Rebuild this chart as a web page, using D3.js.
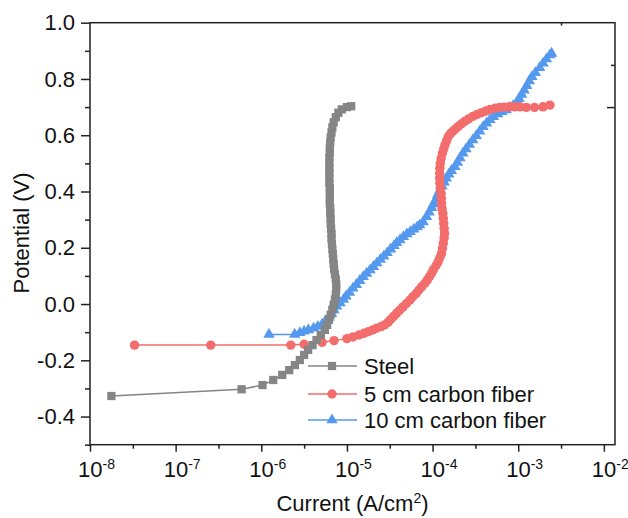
<!DOCTYPE html>
<html>
<head>
<meta charset="utf-8">
<script src="https://cdn.jsdelivr.net/npm/d3@7"></script>
<style>
  body { margin: 0; background: #fff; }
  text { font-family: Arial, "Liberation Sans", sans-serif; fill: #111; }
</style>
</head>
<body>
<div id="chart"></div>
<script>
// [log10(current A/cm2), potential V]
var steel = [
  [-7.75,-0.327],[-6.23,-0.303],[-5.985,-0.288],[-5.86,-0.270],[-5.756,-0.252],[-5.674,-0.235],
  [-5.608,-0.217],[-5.55,-0.199],[-5.50,-0.181],[-5.453,-0.163],[-5.402,-0.146],[-5.355,-0.128],
  [-5.305,-0.110],[-5.258,-0.092],[-5.231,-0.074],[-5.21,-0.056],[-5.19,-0.038],[-5.17,-0.020],
  [-5.155,-0.002],[-5.14,0.016],[-5.13,0.034],[-5.125,0.052],[-5.125,0.070],[-5.13,0.088],
  [-5.14,0.106],[-5.15,0.124],[-5.155,0.142],[-5.16,0.160],[-5.165,0.178],[-5.17,0.196],
  [-5.175,0.214],[-5.18,0.232],[-5.18,0.250],[-5.185,0.268],[-5.19,0.286],[-5.19,0.304],
  [-5.195,0.322],[-5.195,0.340],[-5.2,0.358],[-5.2,0.376],[-5.2,0.394],[-5.2,0.412],
  [-5.205,0.430],[-5.205,0.448],[-5.205,0.466],[-5.205,0.484],[-5.205,0.502],[-5.205,0.520],
  [-5.2,0.538],[-5.2,0.556],[-5.195,0.574],[-5.19,0.592],[-5.18,0.610],[-5.17,0.628],
  [-5.155,0.646],[-5.13,0.664],[-5.10,0.680],[-5.06,0.692],[-5.00,0.700],[-4.95,0.703]
];
var cf5 = [
  [-7.48,-0.146],[-6.59,-0.146],[-5.655,-0.146],[-5.50,-0.143],[-5.29,-0.136],[-5.15,-0.130],
  [-5.00,-0.123],[-4.93,-0.117],[-4.86,-0.110],[-4.80,-0.104],[-4.75,-0.098],[-4.70,-0.092],
  [-4.655,-0.086],[-4.60,-0.080],[-4.56,-0.074],[-4.52,-0.065],[-4.49,-0.055],[-4.455,-0.044],
  [-4.42,-0.033],[-4.385,-0.022],[-4.345,-0.010],[-4.305,0.002],[-4.265,0.014],[-4.23,0.026],
  [-4.19,0.038],[-4.16,0.050],[-4.125,0.062],[-4.09,0.074],[-4.06,0.086],[-4.035,0.098],
  [-4.01,0.110],[-3.99,0.122],[-3.96,0.136],[-3.935,0.150],[-3.915,0.165],[-3.895,0.180],
  [-3.885,0.198],[-3.875,0.216],[-3.865,0.234],[-3.86,0.251],[-3.865,0.269],[-3.87,0.287],
  [-3.875,0.305],[-3.88,0.322],[-3.89,0.340],[-3.895,0.358],[-3.897,0.376],[-3.9,0.393],
  [-3.91,0.411],[-3.915,0.429],[-3.917,0.447],[-3.917,0.465],[-3.915,0.483],[-3.91,0.500],
  [-3.9,0.518],[-3.885,0.536],[-3.87,0.551],[-3.855,0.566],[-3.835,0.581],[-3.815,0.596],
  [-3.79,0.606],[-3.76,0.615],[-3.73,0.623],[-3.70,0.631],[-3.665,0.640],[-3.625,0.649],
  [-3.58,0.658],[-3.53,0.667],[-3.48,0.674],[-3.43,0.680],[-3.38,0.686],[-3.33,0.692],
  [-3.27,0.696],[-3.215,0.699],[-3.16,0.700],[-3.10,0.701],[-3.04,0.701],[-2.98,0.701],
  [-2.905,0.699],[-2.81,0.699],[-2.71,0.701],[-2.63,0.707]
];
var cf10 = [
  [-5.91,-0.108],[-5.61,-0.108],[-5.55,-0.102],[-5.50,-0.097],[-5.45,-0.092],[-5.39,-0.086],
  [-5.34,-0.080],[-5.29,-0.072],[-5.25,-0.060],[-5.21,-0.048],[-5.18,-0.034],[-5.15,-0.021],
  [-5.12,-0.008],[-5.08,0.004],[-5.04,0.016],[-5.01,0.028],[-4.97,0.041],[-4.93,0.056],
  [-4.89,0.069],[-4.85,0.083],[-4.81,0.097],[-4.77,0.109],[-4.73,0.121],[-4.69,0.133],
  [-4.65,0.146],[-4.61,0.158],[-4.57,0.170],[-4.53,0.182],[-4.49,0.195],[-4.45,0.207],
  [-4.42,0.218],[-4.38,0.228],[-4.34,0.239],[-4.30,0.249],[-4.26,0.257],[-4.22,0.266],
  [-4.18,0.274],[-4.15,0.281],[-4.11,0.292],[-4.07,0.310],[-4.04,0.326],[-4.01,0.342],
  [-3.99,0.356],[-3.96,0.372],[-3.94,0.389],[-3.915,0.405],[-3.89,0.419],[-3.865,0.433],
  [-3.84,0.447],[-3.81,0.461],[-3.78,0.474],[-3.74,0.488],[-3.71,0.503],[-3.68,0.519],
  [-3.645,0.536],[-3.61,0.551],[-3.57,0.567],[-3.53,0.583],[-3.49,0.598],[-3.45,0.614],
  [-3.41,0.630],[-3.37,0.643],[-3.33,0.655],[-3.29,0.666],[-3.24,0.676],[-3.19,0.684],
  [-3.14,0.690],[-3.10,0.698],[-3.06,0.705],[-3.02,0.715],[-2.99,0.730],[-2.96,0.745],
  [-2.93,0.760],[-2.90,0.776],[-2.87,0.793],[-2.84,0.808],[-2.80,0.822],[-2.75,0.840],
  [-2.71,0.856],[-2.67,0.871],[-2.63,0.885],[-2.61,0.891]
];

var seriesNames = ['Steel', '5 cm carbon fiber', '10 cm carbon fiber'];
var xMajorExp = [-8, -7, -6, -5, -4, -3, -2];
var xMinorExp = [-7.5, -6.5, -5.5, -4.5, -3.5, -2.5];
var yMajor = [-0.4, -0.2, 0.0, 0.2, 0.4, 0.6, 0.8, 1.0];
var yMinor = [-0.5, -0.3, -0.1, 0.1, 0.3, 0.5, 0.7, 0.9];
var rightMajor = [0.7];
var rightMinor = [0.85];
var topMinorExp = [-2.5];

(function () {
  'use strict';
  var width = 628, height = 518;
  var left = 90, right = 615, top = 22.7, bottom = 444.7;
  var colors = ['#858585', '#f36d6d', '#5599ee'];
  var symbols = [d3.symbolSquare, d3.symbolCircle, d3.symbolTriangle];
  var symSizes = [68, 70, 56];
  var fs = 22, fsSup = 14;

  var x = d3.scaleLog().domain([1e-8, Math.pow(10, -1.87)]).range([left, right]);
  var y = d3.scaleLinear().domain([-0.5, 1.0]).range([bottom, top]);
  function p10(e) { return Math.pow(10, e); }

  var svg = d3.select('#chart').append('svg').attr('width', width).attr('height', height);

  // Series — draw order: blue, red, gray
  var data = [steel, cf5, cf10];
  var line = d3.line().x(function (d) { return x(p10(d[0])); }).y(function (d) { return y(d[1]); });
  [2, 1, 0].forEach(function (i) {
    var g = svg.append('g');
    g.append('path').attr('d', line(data[i])).attr('fill', 'none')
      .attr('stroke', colors[i]).attr('stroke-width', 1.5);
    g.selectAll('path.m').data(data[i]).enter().append('path')
      .attr('class', 'm')
      .attr('transform', function (d) { return 'translate(' + x(p10(d[0])) + ',' + y(d[1]) + ')'; })
      .attr('d', d3.symbol().type(symbols[i]).size(symSizes[i]))
      .attr('fill', colors[i]);
  });

  // Axes
  var axisColor = '#222';
  var gx = svg.append('g').attr('transform', 'translate(0,' + bottom + ')');
  gx.call(d3.axisBottom(x).tickValues(xMajorExp.map(p10)).tickSize(7).tickSizeOuter(0).tickFormat(''));
  var gxm = svg.append('g').attr('transform', 'translate(0,' + bottom + ')');
  gxm.call(d3.axisBottom(x).tickValues(xMinorExp.map(p10)).tickSize(4).tickSizeOuter(0).tickFormat(''));

  var gy = svg.append('g').attr('transform', 'translate(' + left + ',0)');
  gy.call(d3.axisLeft(y).tickValues(yMajor).tickSize(9).tickPadding(6).tickSizeOuter(0)
    .tickFormat(function (d) { return d.toFixed(1); }));
  gy.selectAll('text').attr('font-size', fs).attr('fill', '#111')
    .style('font-family', 'Arial, "Liberation Sans", sans-serif');
  var gym = svg.append('g').attr('transform', 'translate(' + left + ',0)');
  gym.call(d3.axisLeft(y).tickValues(yMinor).tickSize(5).tickSizeOuter(0).tickFormat(''));

  var gr = svg.append('g').attr('transform', 'translate(' + right + ',0)');
  gr.call(d3.axisLeft(y).tickValues(rightMajor).tickSize(8).tickSizeOuter(0).tickFormat(''));
  var grm = svg.append('g').attr('transform', 'translate(' + right + ',0)');
  grm.call(d3.axisLeft(y).tickValues(rightMinor).tickSize(4).tickSizeOuter(0).tickFormat(''));
  var gt = svg.append('g').attr('transform', 'translate(0,' + top + ')');
  gt.call(d3.axisBottom(x).tickValues(topMinorExp.map(p10)).tickSize(3).tickSizeOuter(0).tickFormat(''));

  svg.selectAll('.domain').remove();
  svg.selectAll('.tick line').attr('stroke', axisColor).attr('stroke-width', 1.5);

  // Frame
  svg.append('rect').attr('x', left).attr('y', top).attr('width', right - left).attr('height', bottom - top)
    .attr('fill', 'none').attr('stroke', axisColor).attr('stroke-width', 1.5);

  // X tick labels with superscript exponents
  xMajorExp.forEach(function (e) {
    var t = svg.append('text').attr('x', x(p10(e)) - 12).attr('y', 477).attr('font-size', fs);
    t.append('tspan').text('10');
    t.append('tspan').attr('dy', -8).attr('font-size', fsSup).text(String(e));
  });

  // Axis titles
  var xt = svg.append('text').attr('x', (left + right) / 2).attr('y', 511)
    .attr('text-anchor', 'middle').attr('font-size', fs);
  xt.append('tspan').text('Current (A/cm');
  xt.append('tspan').attr('dy', -8).attr('font-size', fsSup).text('2');
  xt.append('tspan').attr('dy', 8).text(')');

  svg.append('text').attr('transform', 'translate(29,233) rotate(-90)')
    .attr('text-anchor', 'middle').attr('font-size', fs).text('Potential (V)');

  // Legend
  var legY = [366, 394, 420];
  seriesNames.forEach(function (name, i) {
    var g = svg.append('g').attr('transform', 'translate(0,' + legY[i] + ')');
    g.append('line').attr('x1', 308).attr('x2', 357).attr('stroke', colors[i]).attr('stroke-width', 1.5);
    g.append('path').attr('transform', 'translate(332,0)')
      .attr('d', d3.symbol().type(symbols[i]).size(symSizes[i])).attr('fill', colors[i]);
    g.append('text').attr('x', 364).attr('dy', '0.35em').attr('font-size', fs).text(name);
  });
})();
</script>
</body>
</html>
